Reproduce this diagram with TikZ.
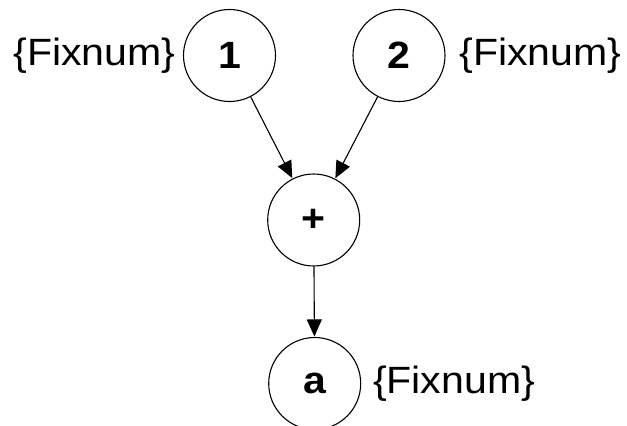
\documentclass[tikz,border=0pt]{standalone}
\usepackage{fontspec}
\setmainfont{Liberation Sans}
\usetikzlibrary{arrows.meta}
\begin{document}
\begin{tikzpicture}[x=1pt,y=1pt,
  vnode/.style={circle,draw=black,line width=1.1pt,minimum size=92pt,inner sep=0pt,font=\fontsize{38}{42}\selectfont\bfseries},
  lbl/.style={inner sep=0pt,font=\fontsize{38}{42}\selectfont},
  conn/.style={line width=1.1pt,-{Triangle[length=17pt,width=15pt]},shorten >=0.5pt}]
\useasboundingbox (0,0) rectangle (627,-426);
\node[vnode] (n1) at (229.5,-55.5) {\scalebox{1.08}[1]{1}};
\node[vnode] (n2) at (399,-55.5) {\scalebox{1.08}[1]{2}};
\node[vnode] (plus) at (313.7,-220) {\scalebox{1.08}[1]{+}};
\node[vnode] (a) at (314.7,-383.5) {\scalebox{1.08}[1]{a}};
\node[lbl] (l1) at (94.5,-56) {\scalebox{1.08}[1]{\{Fixnum\}}};
\node[lbl] (l2) at (540.5,-56) {\scalebox{1.08}[1]{\{Fixnum\}}};
\node[lbl] (l3) at (454,-384) {\scalebox{1.08}[1]{\{Fixnum\}}};
\draw[conn] (n1) -- (plus);
\draw[conn] (n2) -- (plus);
\draw[conn] (plus) -- (a);
\end{tikzpicture}
\end{document}
